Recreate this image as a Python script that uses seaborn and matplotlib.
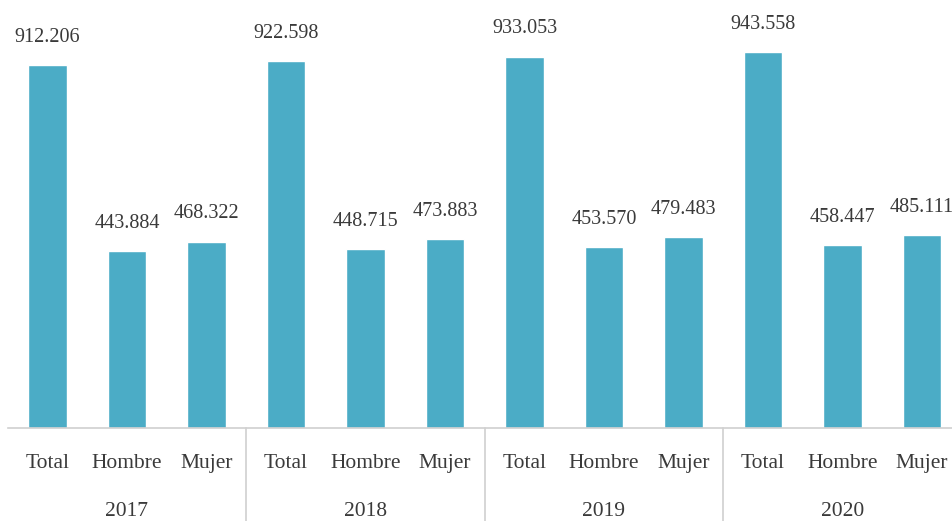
import matplotlib
matplotlib.use("Agg")
import matplotlib.pyplot as plt
import seaborn as sns
import pandas as pd
from matplotlib.lines import Line2D

# Población por sexo y año
years = ["2017", "2018", "2019", "2020"]
groups = ["Total", "Hombre", "Mujer"]
total = [912206, 922598, 933053, 943558]
hombre = [443884, 448715, 453570, 458447]
mujer = [468322, 473883, 479483, 485111]

rows = []
for i, y in enumerate(years):
    for g, vals in zip(groups, [total, hombre, mujer]):
        rows.append({"key": f"{y}-{g}", "year": y, "grupo": g, "valor": vals[i]})
df = pd.DataFrame(rows)

sns.set_theme(style="white")
plt.rcParams["font.family"] = ["Liberation Serif", "DejaVu Serif"]

text_color = "#3A3A3A"
bar_color = "#4BACC6"
line_color = "#D0D0D0"

W, H = 953, 521
fig = plt.figure(figsize=(W / 100, H / 100), dpi=100)
left_px, base_px = 7.75, 428
ax = fig.add_axes([left_px / W, (H - base_px) / H, (W - left_px) / W, base_px / H])

sns.barplot(data=df, x="key", y="valor", color=bar_color, saturation=1,
            width=0.49, ax=ax)

slot = 79.5
ax.set_xlim(-0.5, -0.5 + (W - left_px) / slot)
ax.set_ylim(0, 1075000)

labels = [f"{v:,}".replace(",", ".") for v in df["valor"]]
ax.bar_label(ax.containers[0], labels=labels, padding=13, fontsize=14.5,
             color=text_color)

ax.set_xticks(range(len(df)))
ax.set_xticklabels(df["grupo"], fontsize=15.5, color=text_color)
ax.tick_params(axis="x", length=0, pad=19)
ax.set_yticks([])
ax.set_xlabel("")
ax.set_ylabel("")

for s in ["top", "right", "left"]:
    ax.spines[s].set_visible(False)
ax.spines["bottom"].set_color(line_color)
ax.spines["bottom"].set_linewidth(1.2)

# separadores entre años
trans = ax.get_xaxis_transform()
depth = -(H - base_px) / base_px
for xs in [2.5, 5.5, 8.5]:
    ax.add_line(Line2D([xs, xs], [0, depth], transform=trans, color=line_color,
                       linewidth=1.2, clip_on=False))

# etiquetas de año
for i, y in enumerate(years):
    ax.text(i * 3 + 1, -(511 - base_px) / base_px, y, transform=trans,
            ha="center", va="center", fontsize=15.5, color=text_color)

fig.savefig("out.png", dpi=100)
